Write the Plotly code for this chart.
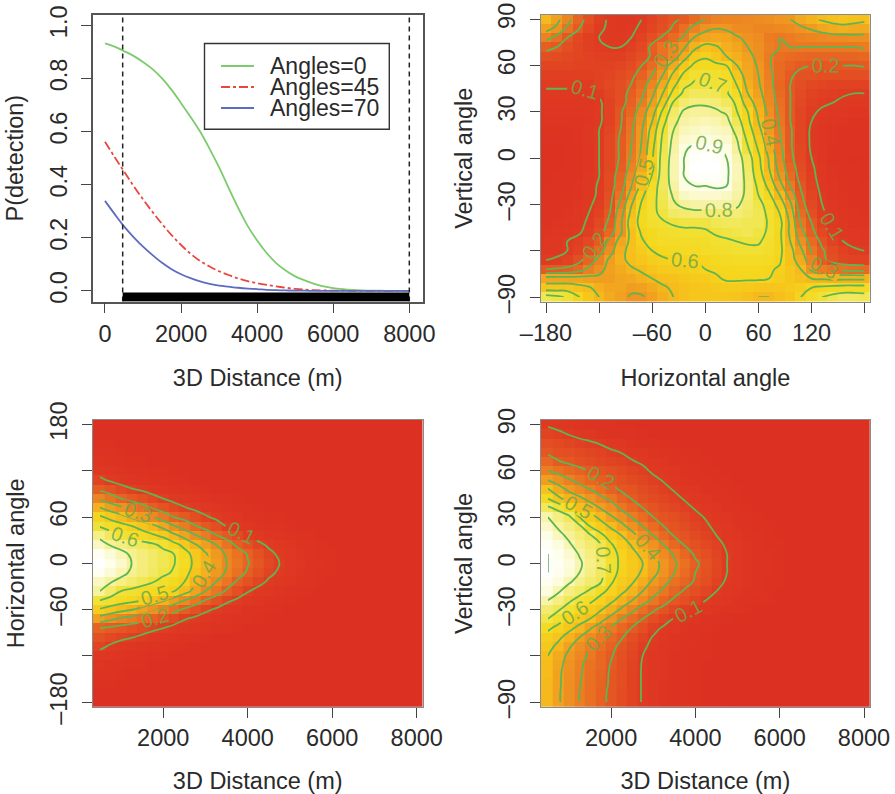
import plotly.graph_objects as go

# ---------- top-left: detection curves ----------
curve_distance = [0,250,500,750,1000,1250,1500,1750,2000,2250,2500,2750,3000,3250,3500,3750,4000,4250,4500,4750,5000,5250,5500,5750,6000,6250,6500,6750,7000,7250,7500,7750,8000]
p_angles_0 = [.932,.92,.903,.885,.862,.835,.80,.757,.707,.655,.60,.535,.465,.388,.313,.245,.19,.143,.105,.077,.055,.04,.027,.017,.011,.007,.004,.002,.001,.001,0,0,0]
p_angles_45 = [.562,.505,.45,.395,.345,.297,.252,.21,.173,.14,.113,.092,.074,.06,.047,.037,.029,.023,.017,.012,.008,.005,.003,.002,.001,.001,0,0,0,0,0,0,0]
p_angles_70 = [.339,.29,.243,.203,.167,.135,.106,.082,.063,.048,.036,.027,.02,.016,.012,.009,.007,.004,.003,.002,.001,.001,0,0,0,0,0,0,0,0,0,0,0]
truncation = [465, 8000]

# ---------- grids ----------
h_angles_deg = [-180,-168,-156,-144,-132,-120,-108,-96,-84,-72,-60,-48,-36,-24,-12,0,12,24,36,48,60,72,84,96,108,120,132,144,156,168,180]
v_angles_deg = [90,84,78,72,66,60,54,48,42,36,30,24,18,12,6,0,-6,-12,-18,-24,-30,-36,-42,-48,-54,-60,-66,-72,-78,-84,-90]
h_angles_desc = [180,168,156,144,132,120,108,96,84,72,60,48,36,24,12,0,-12,-24,-36,-48,-60,-72,-84,-96,-108,-120,-132,-144,-156,-168,-180]
distances = [500,750,1000,1250,1500,1750,2000,2250,2500,2750,3000,3250,3500,3750,4000,4250,4500,4750,5000,5250,5500,5750,6000,6250,6500,6750,7000,7250,7500,7750,8000]
distance_edges = [330,625,875,1125,1375,1625,1875,2125,2375,2625,2875,3125,3375,3625,3875,4125,4375,4625,4875,5125,5375,5625,5875,6125,6375,6625,6875,7125,7375,7625,7875,8142]

# ---------- top-right: P(horizontal, vertical) ----------
z_h_v = [
[.50,.43,.34,.24,.17,.12,.09,.08,.08,.10,.13,.16,.19,.21,.26,.30,.33,.34,.34,.35,.36,.37,.39,.40,.45,.48,.51,.53,.54,.53,.52],
[.43,.38,.28,.21,.15,.11,.09,.08,.09,.11,.14,.17,.21,.27,.33,.38,.40,.39,.36,.36,.34,.34,.35,.36,.38,.41,.44,.46,.47,.46,.45],
[.33,.27,.20,.15,.12,.10,.09,.09,.10,.13,.17,.21,.26,.31,.41,.44,.45,.44,.41,.38,.36,.31,.30,.31,.33,.34,.35,.36,.36,.37,.37],
[.22,.20,.17,.14,.12,.11,.10,.10,.12,.15,.22,.28,.34,.39,.48,.53,.51,.47,.44,.40,.37,.32,.30,.30,.30,.30,.30,.30,.30,.30,.31],
[.17,.16,.15,.14,.13,.12,.12,.12,.14,.17,.21,.28,.35,.46,.56,.59,.55,.50,.47,.43,.37,.31,.27,.26,.25,.24,.24,.24,.24,.24,.25],
[.14,.14,.14,.13,.13,.13,.13,.14,.16,.20,.26,.35,.45,.55,.62,.63,.62,.60,.50,.44,.39,.31,.26,.23,.21,.20,.20,.20,.20,.20,.205],
[.12,.12,.12,.12,.12,.13,.14,.16,.18,.23,.30,.40,.52,.62,.68,.69,.68,.65,.55,.45,.40,.32,.26,.21,.18,.18,.17,.17,.17,.17,.17],
[.11,.11,.11,.11,.11,.13,.15,.17,.20,.26,.34,.45,.57,.68,.71,.72,.70,.69,.59,.47,.41,.33,.25,.20,.17,.15,.14,.13,.13,.13,.13],
[.09,.09,.09,.09,.09,.11,.14,.17,.22,.28,.38,.50,.63,.72,.75,.75,.74,.71,.64,.50,.43,.34,.26,.20,.16,.13,.12,.115,.105,.10,.10],
[.08,.08,.08,.08,.08,.09,.13,.17,.23,.31,.42,.55,.71,.77,.79,.79,.78,.75,.68,.54,.46,.35,.27,.20,.15,.12,.11,.10,.09,.09,.09],
[.06,.06,.06,.06,.07,.09,.13,.19,.25,.35,.46,.62,.76,.81,.82,.82,.81,.79,.70,.60,.48,.37,.28,.20,.14,.11,.09,.08,.07,.06,.06],
[.05,.05,.05,.05,.06,.09,.13,.19,.27,.37,.50,.67,.78,.83,.84,.85,.84,.82,.74,.62,.50,.39,.29,.20,.14,.10,.07,.06,.05,.04,.04],
[.04,.04,.04,.05,.07,.10,.14,.20,.28,.39,.54,.70,.80,.85,.86,.87,.86,.85,.77,.65,.53,.41,.30,.21,.14,.09,.06,.05,.04,.03,.03],
[.03,.03,.03,.05,.07,.10,.15,.21,.29,.40,.56,.72,.82,.87,.88,.89,.88,.87,.80,.68,.56,.44,.31,.21,.14,.09,.06,.05,.03,.03,.03],
[.02,.02,.03,.04,.06,.10,.15,.21,.30,.41,.58,.73,.83,.89,.92,.92,.91,.89,.82,.71,.59,.46,.33,.21,.15,.09,.06,.04,.03,.03,.03],
[.02,.02,.03,.04,.06,.10,.15,.21,.31,.42,.59,.74,.84,.90,.93,.94,.93,.90,.84,.75,.62,.49,.34,.22,.15,.10,.06,.04,.03,.02,.02],
[.02,.02,.03,.04,.06,.10,.15,.22,.33,.45,.58,.75,.84,.90,.94,.94,.94,.91,.85,.76,.63,.50,.36,.24,.16,.11,.07,.05,.03,.03,.02],
[.02,.03,.03,.04,.07,.10,.16,.24,.36,.49,.61,.75,.84,.90,.93,.93,.93,.91,.85,.77,.65,.53,.39,.26,.17,.12,.07,.05,.04,.03,.02],
[.02,.03,.03,.05,.07,.11,.16,.25,.39,.53,.65,.75,.83,.89,.90,.90,.91,.90,.84,.78,.68,.57,.44,.30,.19,.13,.08,.06,.04,.03,.03],
[.03,.03,.04,.05,.08,.11,.17,.28,.44,.58,.67,.74,.81,.86,.87,.87,.87,.86,.83,.78,.70,.62,.50,.36,.21,.14,.09,.06,.05,.04,.03],
[.03,.03,.04,.06,.09,.12,.18,.32,.49,.61,.68,.73,.79,.82,.83,.83,.83,.83,.81,.77,.73,.66,.56,.42,.23,.15,.10,.07,.05,.04,.03],
[.03,.04,.05,.07,.10,.13,.20,.36,.52,.63,.68,.72,.76,.77,.78,.78,.78,.78,.78,.76,.74,.68,.60,.46,.26,.17,.11,.08,.06,.05,.04],
[.04,.05,.06,.08,.11,.15,.22,.38,.55,.63,.67,.69,.71,.72,.72,.72,.74,.75,.75,.74,.74,.69,.63,.48,.29,.20,.13,.09,.07,.05,.05],
[.05,.06,.08,.09,.12,.17,.25,.38,.53,.61,.63,.66,.67,.68,.68,.69,.71,.72,.73,.74,.72,.69,.62,.48,.33,.22,.15,.11,.08,.07,.06],
[.06,.08,.10,.12,.15,.21,.33,.44,.52,.59,.63,.65,.65,.65,.65,.66,.68,.69,.70,.71,.71,.67,.62,.50,.37,.26,.18,.13,.10,.08,.07],
[.075,.08,.10,.13,.18,.26,.36,.47,.53,.57,.60,.62,.63,.64,.64,.65,.66,.67,.68,.68,.68,.66,.62,.53,.42,.29,.21,.16,.13,.11,.10],
[.10,.11,.13,.17,.24,.33,.42,.48,.52,.55,.58,.59,.60,.60,.60,.61,.63,.64,.65,.65,.65,.64,.61,.53,.46,.33,.22,.17,.14,.13,.13],
[.20,.21,.22,.25,.32,.37,.43,.46,.49,.51,.54,.56,.57,.58,.59,.60,.61,.62,.62,.62,.62,.61,.59,.55,.50,.38,.31,.28,.27,.26,.25],
[.44,.44,.44,.44,.43,.42,.42,.44,.45,.48,.50,.52,.53,.55,.56,.57,.59,.61,.61,.61,.61,.60,.58,.55,.52,.50,.49,.48,.48,.48,.48],
[.55,.55,.55,.53,.51,.47,.44,.44,.42,.43,.46,.49,.51,.53,.54,.55,.56,.57,.57,.56,.55,.54,.55,.56,.58,.60,.62,.63,.64,.64,.64],
[.74,.72,.69,.61,.55,.50,.46,.43,.39,.39,.43,.47,.50,.53,.55,.55,.55,.55,.54,.52,.50,.50,.52,.55,.60,.65,.70,.73,.75,.75,.74],
]

def pad(rows):
    # rows list only the columns up to where the value reaches zero
    return [row + [0.0] * (31 - len(row)) for row in rows]

# ---------- bottom-left: P(distance, horizontal) ----------
z_d_h = pad([
[.012,.008,.006,.004],
[.013,.009,.006,.004],
[.02,.014,.01,.007,.005],
[.03,.022,.016,.012,.009,.006],
[.045,.035,.027,.02,.015,.011,.008],
[.07,.055,.043,.034,.026,.02,.015],
[.115,.09,.07,.055,.044,.035,.027,.02,.016,.012,.009],
[.185,.16,.13,.105,.09,.07,.055,.043,.033,.026,.02],
[.285,.24,.20,.17,.15,.125,.10,.08,.063,.05,.04,.03,.023,.017,.012,.009,.007,.005,.003],
[.405,.355,.32,.27,.23,.19,.16,.13,.105,.085,.065,.05,.04,.03,.022,.016,.012,.008,.006,.004,.003,.002,.001],
[.515,.475,.435,.39,.345,.30,.25,.20,.17,.14,.11,.085,.065,.05,.038,.028,.02,.015,.01,.007,.005,.004,.003,.002,.001],
[.595,.56,.535,.505,.465,.425,.375,.31,.26,.21,.17,.14,.10,.08,.06,.045,.035,.025,.018,.012,.008,.006,.004,.003,.002,.001,.001],
[.68,.64,.60,.57,.545,.515,.48,.425,.37,.31,.26,.205,.17,.135,.095,.075,.055,.04,.03,.02,.015,.01,.007,.005,.003,.002,.001],
[.73,.695,.675,.655,.635,.615,.58,.53,.475,.41,.355,.30,.24,.185,.15,.115,.09,.07,.05,.035,.025,.017,.012,.008,.006,.004,.002,.001,.001,.001],
[.78,.75,.72,.69,.67,.65,.625,.60,.535,.47,.41,.345,.29,.24,.195,.155,.115,.09,.065,.045,.03,.02,.015,.01,.007,.004,.003,.002,.001,.001],
[.80,.77,.74,.70,.67,.65,.63,.605,.55,.48,.42,.36,.30,.25,.205,.165,.13,.10,.07,.05,.035,.025,.018,.012,.008,.005,.003,.002,.001,.001],
[.78,.75,.72,.69,.67,.645,.62,.59,.53,.465,.405,.345,.29,.235,.19,.15,.115,.09,.065,.045,.03,.02,.015,.01,.007,.004,.003,.002,.001,.001],
[.73,.705,.68,.655,.63,.605,.57,.535,.50,.415,.355,.30,.245,.19,.155,.12,.09,.07,.05,.035,.025,.017,.012,.008,.006,.004,.002,.001,.001,.001],
[.70,.65,.60,.58,.56,.54,.525,.505,.44,.37,.30,.245,.19,.145,.105,.08,.06,.045,.03,.02,.015,.01,.007,.005,.003,.002,.001],
[.60,.57,.545,.525,.50,.455,.41,.355,.30,.25,.195,.155,.115,.09,.065,.05,.035,.025,.018,.012,.008,.006,.004,.003,.002,.001,.001],
[.49,.46,.43,.405,.365,.325,.28,.23,.185,.15,.115,.09,.065,.05,.038,.028,.02,.015,.01,.007,.005,.004,.003,.002,.001],
[.36,.32,.285,.26,.23,.195,.165,.135,.105,.085,.065,.05,.04,.03,.022,.016,.012,.008,.006,.004,.003,.002,.001],
[.20,.18,.165,.15,.135,.115,.10,.08,.063,.05,.04,.03,.023,.017,.012,.009,.007,.005,.003],
[.15,.13,.115,.103,.085,.07,.055,.043,.033,.026,.02],
[.115,.09,.07,.055,.044,.035,.027,.02,.016,.012,.009],
[.07,.055,.043,.034,.026,.02,.015],
[.045,.035,.027,.02,.015,.011,.008],
[.03,.022,.016,.012,.009,.006],
[.02,.014,.01,.007,.005],
[.013,.009,.006,.004],
[.012,.008,.006,.004],
])

# ---------- bottom-right: P(distance, vertical) ----------
z_d_v = pad([
[.09,.075,.06,.05,.04,.03,.025,.02,.015,.01,.008,.005,.003],
[.13,.115,.095,.08,.065,.05,.04,.03,.025,.02,.014,.01,.007,.005,.003],
[.16,.15,.135,.12,.11,.095,.08,.065,.05,.04,.03,.022,.016,.011,.008,.005,.003],
[.19,.17,.16,.15,.135,.125,.11,.098,.08,.065,.05,.037,.027,.02,.015,.01,.007,.005,.003],
[.235,.205,.185,.17,.155,.14,.13,.12,.105,.09,.07,.055,.04,.03,.022,.016,.011,.008,.005,.003],
[.30,.27,.245,.22,.195,.18,.165,.15,.13,.115,.09,.07,.055,.04,.03,.022,.016,.011,.008,.005,.003],
[.40,.355,.31,.27,.24,.21,.19,.17,.15,.135,.115,.095,.07,.05,.04,.03,.022,.016,.011,.007,.005,.003],
[.51,.44,.38,.34,.30,.26,.22,.19,.175,.155,.135,.115,.095,.07,.055,.04,.03,.022,.015,.01,.007,.005,.003],
[.60,.52,.46,.42,.37,.32,.28,.23,.195,.17,.15,.135,.115,.095,.07,.055,.04,.03,.02,.014,.01,.007,.005],
[.72,.67,.60,.50,.45,.395,.35,.28,.24,.20,.175,.155,.135,.115,.095,.07,.055,.04,.03,.02,.014,.01,.007,.005,.003],
[.80,.76,.72,.60,.54,.475,.41,.36,.295,.25,.20,.175,.16,.14,.115,.095,.07,.055,.04,.028,.02,.014,.01,.007,.005,.003],
[.83,.79,.755,.72,.60,.545,.485,.425,.365,.30,.25,.20,.175,.155,.13,.11,.085,.065,.045,.032,.023,.016,.011,.008,.005,.003],
[.86,.82,.785,.75,.715,.625,.555,.50,.43,.365,.30,.245,.195,.175,.15,.125,.10,.075,.055,.04,.028,.02,.014,.01,.006,.004,.002],
[.88,.85,.81,.77,.74,.705,.61,.55,.49,.425,.365,.30,.24,.195,.17,.145,.12,.09,.065,.045,.032,.023,.016,.011,.007,.005,.003],
[.90,.87,.835,.795,.755,.715,.635,.575,.525,.475,.405,.345,.29,.235,.19,.16,.13,.10,.07,.05,.035,.025,.018,.012,.008,.005,.003],
[.90,.88,.85,.81,.77,.73,.65,.575,.54,.50,.43,.375,.31,.265,.21,.18,.14,.10,.07,.05,.035,.025,.018,.012,.008,.005,.003],
[.90,.875,.84,.80,.76,.72,.64,.57,.53,.49,.425,.365,.30,.25,.20,.17,.135,.10,.07,.05,.035,.025,.018,.012,.008,.005,.003],
[.88,.85,.81,.77,.74,.71,.61,.555,.51,.445,.385,.33,.265,.23,.19,.16,.125,.09,.065,.045,.032,.023,.016,.011,.007,.005,.003],
[.85,.81,.76,.73,.69,.625,.575,.52,.465,.40,.335,.28,.23,.19,.165,.135,.10,.075,.055,.04,.028,.02,.014,.01,.006,.004,.002],
[.80,.76,.715,.67,.62,.57,.52,.46,.40,.34,.28,.23,.185,.16,.13,.10,.08,.06,.042,.03,.021,.015,.01,.007,.005,.003],
[.74,.71,.655,.60,.555,.51,.45,.385,.32,.26,.21,.175,.14,.115,.09,.07,.053,.038,.027,.019,.013,.009,.006,.004,.003],
[.70,.64,.585,.54,.50,.435,.37,.30,.25,.20,.165,.13,.095,.075,.055,.04,.03,.02,.014,.01,.007,.005,.003],
[.62,.57,.525,.475,.41,.35,.29,.24,.195,.16,.12,.09,.07,.05,.037,.027,.019,.013,.009,.006,.004,.003],
[.56,.52,.46,.40,.345,.29,.245,.205,.165,.13,.095,.07,.05,.038,.028,.02,.014,.01,.007,.004,.003],
[.53,.475,.41,.355,.30,.26,.22,.18,.145,.11,.085,.06,.045,.033,.024,.017,.012,.008,.005,.003],
[.50,.44,.38,.33,.285,.24,.205,.17,.135,.10,.08,.055,.04,.03,.022,.015,.01,.007,.004],
[.49,.425,.365,.315,.27,.235,.195,.165,.13,.095,.075,.055,.04,.03,.02,.014,.01,.006,.004],
[.49,.415,.36,.31,.265,.23,.19,.16,.125,.095,.075,.055,.04,.03,.02,.014,.01,.006,.004],
[.48,.415,.355,.305,.26,.225,.19,.16,.125,.095,.07,.05,.04,.03,.02,.014,.01,.006,.004],
[.48,.41,.355,.30,.26,.22,.185,.155,.125,.095,.07,.05,.04,.03,.02,.014,.01,.006,.004],
[.48,.41,.355,.30,.26,.22,.185,.155,.125,.095,.07,.05,.04,.03,.02,.014,.01,.006,.004],
])

legend_labels = ["Angles=0", "Angles=45", "Angles=70"]
x_title_distance = "3D Distance (m)"

# ---------- style ----------
W, H = 895, 794
FONT = "Liberation Sans, Arial, sans-serif"
TXT = "#2a2a2a"
FS = 23.5
GREEN_LINE = "#5FB552"
CURVE_GREEN, CURVE_RED, CURVE_BLUE = "#7CCB6C", "#E8483C", "#5C6CC0"
heat = [[0, "#DC3022"], [.11, "#DF3A22"], [.22, "#E55A22"], [.33, "#EC7C22"], [.44, "#F09C20"],
        [.55, "#F6BE1C"], [.66, "#F5D81E"], [.76, "#EFE33C"], [.86, "#F6F08E"], [.95, "#FDFDE4"], [1, "#FFFFFF"]]

def dom_x(a, b): return [a / W, b / W]
def dom_y(a, b): return [1 - b / H, 1 - a / H]

BOX = {"x": (92.7, 422.7), "x2": (540.7, 870), "x3": (92.7, 422.7), "x4": (540.7, 870)}
BOY = {"y": (14.7, 301.7), "y2": (14.7, 301.7), "y3": (420, 706.7), "y4": (420, 706.7)}

def axis(dom, title, rng, tickvals, ticktext, vertical=False, anchor=None, line="#555555", lw=1.5):
    return dict(domain=dom, range=rng, tickmode="array", tickvals=tickvals, ticktext=ticktext,
                ticks="outside", ticklen=10, tickwidth=1.3, tickcolor="#444444", automargin=False,
                tickangle=-90 if vertical else 0, showgrid=False, zeroline=False,
                ticklabelstandoff=5 if vertical else 0,
                showline=True, mirror=True, linecolor=line, linewidth=lw, anchor=anchor,
                tickfont=dict(family=FONT, size=FS, color=TXT),
                title=dict(text=title, font=dict(family=FONT, size=FS, color=TXT), standoff=15 if vertical else 24))

fig = go.Figure()

# panel 1
for name, ys, col, dash in [(legend_labels[0], p_angles_0, CURVE_GREEN, "solid"),
                            (legend_labels[1], p_angles_45, CURVE_RED, "dashdot"),
                            (legend_labels[2], p_angles_70, CURVE_BLUE, "solid")]:
    fig.add_trace(go.Scatter(x=curve_distance, y=ys, mode="lines", name=name, xaxis="x", yaxis="y", showlegend=False,
                             line=dict(color=col, width=1.8, dash=dash, shape="spline")))
for xv in truncation:
    fig.add_trace(go.Scatter(x=[xv, xv], y=[-0.04, 1.04], mode="lines", showlegend=False, xaxis="x", yaxis="y",
                             line=dict(color="#222222", width=1.5, dash="5px,4px")))
fig.add_trace(go.Scatter(x=truncation, y=[-0.023, -0.023], mode="lines", showlegend=False, xaxis="x", yaxis="y",
                         line=dict(color="#000000", width=9)))

def heat_panel(xa, ya, x_cells, x_nodes, y_nodes, z, zmax):
    fig.add_trace(go.Heatmap(x=x_cells, y=y_nodes, z=z, colorscale=heat, zmin=0, zmax=zmax, showscale=False,
                             xaxis=xa, yaxis=ya, hoverinfo="skip"))
    fig.add_trace(go.Contour(x=x_nodes, y=y_nodes, z=z, xaxis=xa, yaxis=ya, showscale=False, hoverinfo="skip",
                             autocontour=False, showlegend=False,
                             contours=dict(start=.1, end=.9, size=.1, coloring="none", showlabels=True,
                                           labelfont=dict(family=FONT, size=20, color="rgba(112,168,70,0.85)")),
                             line=dict(color=GREEN_LINE, width=1.8, smoothing=1.3)))

heat_panel("x2", "y2", h_angles_deg, h_angles_deg, v_angles_deg, z_h_v, .94)
heat_panel("x3", "y3", distance_edges, distances, h_angles_desc, z_d_h, .80)
heat_panel("x4", "y4", distance_edges, distances, v_angles_deg, z_d_v, .90)

dist_ticks = [2000, 4000, 6000, 8000]
dist_text = ["2000", "4000", "6000", "8000"]
v_ticks = [90, 60, 30, 0, -30, -60, -90]
v_text = ["90", "60", "30", "0", "\u201330", "", "\u201390"]
h_ticks = [-180, -120, -60, 0, 60, 120, 180]
h_text_x = ["\u2013180", "", "\u201360", "0", "60", "120", ""]
h_ticks_y = [180, 120, 60, 0, -60, -120, -180]
h_text_y = ["180", "", "60", "0", "\u201360", "", "\u2013180"]
GR = "#8a8a8a"

# legend box of panel 1, drawn in page pixels
LEG_L, LEG_R, LEG_T, LEG_B = 204.5, 389.3, 43.5, 129.3
LEG_ROWS = [66, 87, 108]
shapes = [dict(type="rect", xref="paper", yref="paper", x0=LEG_L / W, x1=LEG_R / W, y0=1 - LEG_T / H, y1=1 - LEG_B / H,
               line=dict(color="#333333", width=1.4), fillcolor="white", layer="above")]
annotations = []
for label, row, col, dash in zip(legend_labels, LEG_ROWS, [CURVE_GREEN, CURVE_RED, CURVE_BLUE], ["solid", "dashdot", "solid"]):
    shapes.append(dict(type="line", xref="paper", yref="paper", x0=221 / W, x1=254 / W, y0=1 - row / H, y1=1 - row / H,
                       line=dict(color=col, width=1.8, dash=dash), layer="above"))
    annotations.append(dict(text=label, xref="paper", yref="paper", x=268 / W, y=1 - row / H, xanchor="left", yanchor="middle",
                            showarrow=False, font=dict(family=FONT, size=23, color=TXT)))

fig.update_layout(
    width=W, height=H, autosize=False, margin=dict(l=0, r=0, t=0, b=0),
    paper_bgcolor="white", plot_bgcolor="white", showlegend=False, shapes=shapes, annotations=annotations,
    xaxis=axis(dom_x(*BOX["x"]), x_title_distance, [-323, 8352], [0, 2000, 4000, 6000, 8000], ["0", "2000", "4000", "6000", "8000"], anchor="y"),
    yaxis=axis(dom_y(*BOY["y"]), "P(detection)", [-0.0405, 1.04], [0, .2, .4, .6, .8, 1], ["0.0", "0.2", "0.4", "0.6", "0.8", "1.0"], vertical=True, anchor="x"),
    xaxis2=axis(dom_x(*BOX["x2"]), "Horizontal angle", [-186, 186], h_ticks, h_text_x, anchor="y2", line=GR, lw=1),
    yaxis2=axis(dom_y(*BOY["y2"]), "Vertical angle", [-93, 93], v_ticks, v_text, vertical=True, anchor="x2", line=GR, lw=1),
    xaxis3=axis(dom_x(*BOX["x3"]), x_title_distance, [330, 8142], dist_ticks, dist_text, anchor="y3", line=GR, lw=1),
    yaxis3=axis(dom_y(*BOY["y3"]), "Horizontal angle", [-186, 186], h_ticks_y, h_text_y, vertical=True, anchor="x3", line=GR, lw=1),
    xaxis4=axis(dom_x(*BOX["x4"]), x_title_distance, [330, 8142], dist_ticks, dist_text, anchor="y4", line=GR, lw=1),
    yaxis4=axis(dom_y(*BOY["y4"]), "Vertical angle", [-93, 93], v_ticks, v_text, vertical=True, anchor="x4", line=GR, lw=1),
)

fig.write_html("out.html", config={"displayModeBar": False}, post_script="document.body.style.margin='0';")
